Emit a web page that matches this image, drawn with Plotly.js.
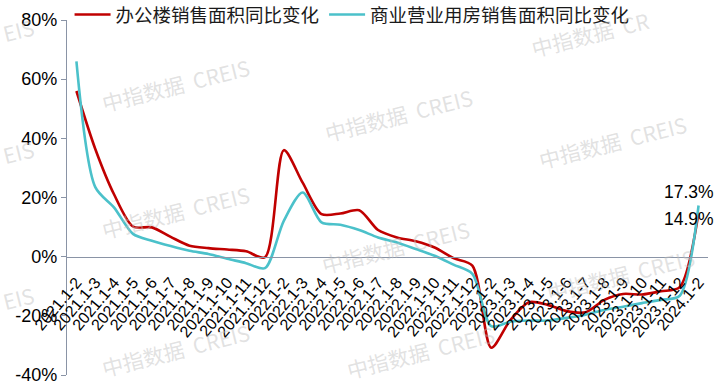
<!DOCTYPE html>
<html>
<head>
<meta charset="utf-8">
<script src="https://cdn.plot.ly/plotly-3.0.1.min.js"></script>
<style>html,body{margin:0;padding:0;background:#fff;}#chart{width:721px;height:390px;}</style>
</head>
<body>
<div id="chart"></div>
<script>
var categories = ["2021.1-2","2021.1-3","2021.1-4","2021.1-5","2021.1-6","2021.1-7","2021.1-8","2021.1-9","2021.1-10","2021.1-11","2021.1-12",
"2022.1-2","2022.1-3","2022.1-4","2022.1-5","2022.1-6","2022.1-7","2022.1-8","2022.1-9","2022.1-10","2022.1-11","2022.1-12",
"2023.1-2","2023.1-3","2023.1-4","2023.1-5","2023.1-6","2023.1-7","2023.1-8","2023.1-9","2023.1-10","2023.1-11","2023.1-12",
"2024.1-2"];
var officeName = "办公楼销售面积同比变化";
var commercialName = "商业营业用房销售面积同比变化";
var officeValues = [56, 36.4, 21, 10.2, 9.9, 6.7, 3.7, 2.9, 2.4, 1.8, -0.2,
  36, 25, 14.4, 14.6, 15.7, 9, 6.5, 5.2, 3.1, -0.5, -3,
  -30.8, -21.6, -15.4, -16.3, -18.4, -18.8, -14.6, -12.6, -12.8, -11.7, -10.3,
  14.9];
var commercialValues = [66, 23.5, 16.6, 7.7, 5.4, 3.6, 2, 0.9, -0.7, -2.2, -3.9,
  12.1, 21.7, 11.6, 10.8, 9, 6.5, 4.8, 2.6, 0.3, -2.7, -5.8,
  -23.5, -22, -21.6, -21.6, -20.7, -19.6, -18, -16.9, -15.7, -14.6, -13.2,
  17.3];
var yTickValues = [-40, -20, 0, 20, 40, 60, 80];
var yTickLabels = ["-40%", "-20%", "0%", "20%", "40%", "60%", "80%"];
var watermarkText = "中指数据  CREIS";
var watermarkLeftFragment = "EIS";
var watermarkTopFragment = "中指数据  CR";

var RED = "#C00000", TEAL = "#4BC1CA", AXIS = "#8A94A6";
var traces = [
  {x: categories, y: officeValues, name: officeName, type: "scatter", mode: "lines",
   line: {color: RED, width: 2.6, shape: "spline", smoothing: 0.8}},
  {x: categories, y: commercialValues, name: commercialName, type: "scatter", mode: "lines",
   line: {color: TEAL, width: 2.6, shape: "spline", smoothing: 0.8}}
];

var last = categories.length - 1;
var annotations = [
  {x: categories[last], y: commercialValues[last], xref: "x", yref: "y", text: commercialValues[last].toFixed(1) + "%",
   showarrow: false, xshift: -10, yshift: 13.5, font: {family: "Liberation Sans, Arial", size: 17.5, color: "#000"}},
  {x: categories[last], y: officeValues[last], xref: "x", yref: "y", text: officeValues[last].toFixed(1) + "%",
   showarrow: false, xshift: -10, yshift: -6, font: {family: "Liberation Sans, Arial", size: 17.5, color: "#000"}}
];
// watermark positions in pixels (style only): [x, y, text]
var wm = [[175,85,watermarkText],[398,115,watermarkText],[612,142,watermarkText],[175,212,watermarkText],
  [395,247,watermarkText],[620,275,watermarkText],[175,350,watermarkText],[420,352,watermarkText],
  [590,34,watermarkTopFragment],[18,30,watermarkLeftFragment],[18,152,watermarkLeftFragment],[18,298,watermarkLeftFragment]];
wm.forEach(function(p){
  annotations.push({xref: "paper", yref: "paper", x: (p[0]-67)/641, y: (375-p[1])/355, text: p[2],
    showarrow: false, textangle: -14, font: {family: "Noto Sans CJK SC", size: 21, color: "rgba(190,190,190,0.45)"},
    xanchor: "center", yanchor: "middle"});
});

var layout = {
  width: 721, height: 390,
  margin: {l: 67, r: 13, t: 20, b: 15, autoexpand: false},
  paper_bgcolor: "#fff", plot_bgcolor: "rgba(0,0,0,0)",
  showlegend: true,
  legend: {orientation: "h", x: 0.004, xanchor: "left", y: 1.014, yanchor: "middle", itemwidth: 36,
    font: {family: "Noto Sans CJK SC", size: 18.5, color: "#1a1a1a"}, bgcolor: "rgba(0,0,0,0)", tracegroupgap: 0},
  xaxis: {type: "category", range: [-0.5, categories.length - 0.5], anchor: "free", position: 40/120,
    tickmode: "array", tickvals: categories, ticktext: categories,
    showline: true, linecolor: AXIS, linewidth: 1.2, showgrid: false, zeroline: false, ticks: "",
    ticklabelstandoff: 9,
    tickangle: -50, tickfont: {family: "Liberation Sans, Arial", size: 16, color: "#000"}, automargin: false},
  yaxis: {range: [-40, 80], tickvals: yTickValues, ticktext: yTickLabels, showgrid: false, zeroline: false,
    showline: true, linecolor: AXIS, linewidth: 1.2, ticks: "outside", ticklen: 5, tickcolor: AXIS,
    tickfont: {family: "Liberation Sans, Arial", size: 18, color: "#000"}, automargin: false},
  annotations: annotations
};
Plotly.newPlot("chart", traces, layout, {staticPlot: true, displayModeBar: false});
</script>
</body>
</html>
